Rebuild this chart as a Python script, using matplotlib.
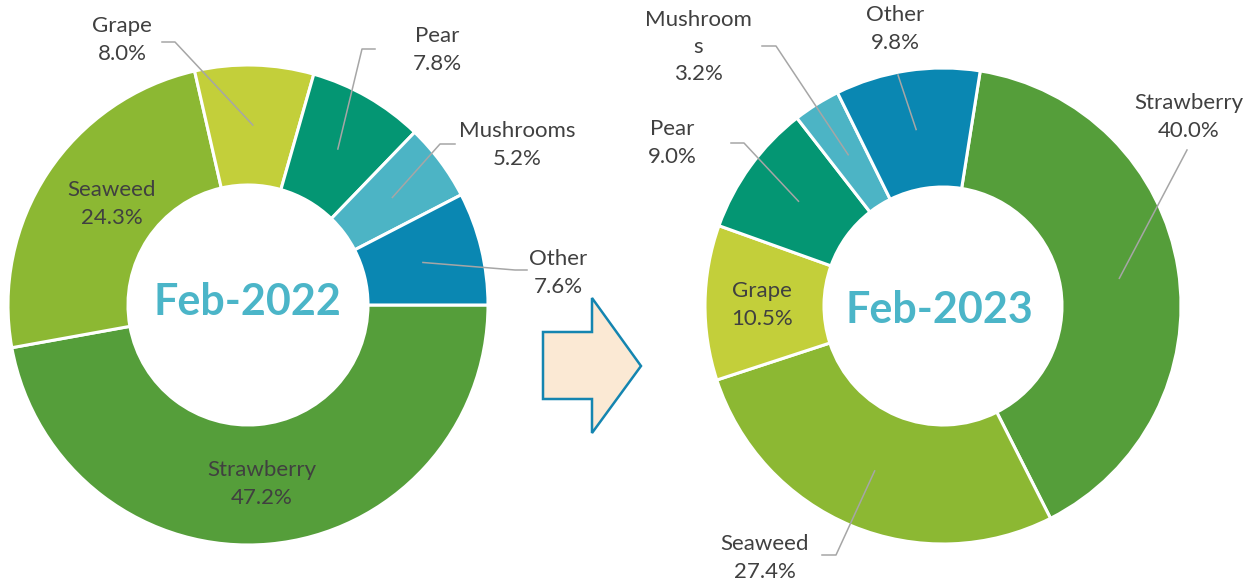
import matplotlib.pyplot as plt
import numpy as np
from matplotlib.patches import Polygon

# data
labels_2022 = ['Strawberry', 'Seaweed', 'Grape', 'Pear', 'Mushrooms', 'Other']
share_2022 = [47.2, 24.3, 8.0, 7.8, 5.2, 7.6]
labels_2023 = ['Strawberry', 'Seaweed', 'Grape', 'Pear', 'Mushroom\ns', 'Other']
share_2023 = [40.0, 27.4, 10.5, 9.0, 3.2, 9.8]
titles = ['Feb-2022', 'Feb-2023']

colors = ['#559E3A', '#8CB833', '#C3CF3A', '#049673', '#4CB4C5', '#0A87B2']
text_col = '#404040'
line_col = '#A6A6A6'

H = 585


def px(x, y):
    # image coords (y down) -> axes coords (y up)
    return (x, H - y)


plt.rcParams['font.family'] = ['Lato', 'DejaVu Sans']

fig = plt.figure(figsize=(12.48, 5.85), dpi=100)
ax = fig.add_axes([0, 0, 1, 1])

# label layout: (text position, elbow points after the anchor) in image px
layout_2022 = [
    ((262, 484), None),
    ((112, 204), None),
    ((122, 40), [(175, 42), (162, 42)]),
    ((437, 50), [(362, 49), (375, 49)]),
    ((517, 145), [(440, 144), (455, 144)]),
    ((558, 273), [(515, 270), (527, 270)]),
]
layout_2023 = [
    ((1189, 117), [(1187, 150)]),
    ((765, 558), [(836, 555), (822, 555)]),
    ((762, 305), None),
    ((672, 143), [(744, 143), (731, 143)]),
    ((698, 47), [(776, 46), (762, 46)]),
    ((895, 29), [(898, 75)]),
]

charts = [
    (labels_2022, share_2022, (248, 305), 240, 0, layout_2022, (247, 302)),
    (labels_2023, share_2023, (943, 306), 238, 81, layout_2023, (939, 310)),
]

for i, (labels, share, c, r, start, layout, tpos) in enumerate(charts):
    wedges, _ = ax.pie(share, colors=colors, radius=r, center=px(*c),
                       startangle=start, counterclock=False,
                       wedgeprops=dict(width=r * 0.5, edgecolor='white', linewidth=2.2))
    for w, lab, val, (tp, pts) in zip(wedges, labels, share, layout):
        ax.text(*px(*tp), f'{lab}\n{val:.1f}%', ha='center', va='center',
                fontsize=16, color=text_col, linespacing=1.45)
        if pts is not None:
            mid = np.deg2rad((w.theta1 + w.theta2) / 2)
            rr = r * 0.75
            xs = [w.center[0] + rr * np.cos(mid)] + [p[0] for p in pts]
            ys = [w.center[1] + rr * np.sin(mid)] + [H - p[1] for p in pts]
            ax.plot(xs, ys, color=line_col, lw=1.1)
    ax.text(*px(*tpos), titles[i], ha='center', va='center', fontsize=31,
            fontweight='bold', color='#4BB5C8')

# arrow between the donuts
arrow = [(543, 332), (592, 332), (592, 298), (641, 366), (592, 433), (592, 399), (543, 399)]
ax.add_patch(Polygon([px(*p) for p in arrow], closed=True, facecolor='#FBE9D4',
                     edgecolor='#1485B0', linewidth=1.8))

ax.set_xlim(0, 1248)
ax.set_ylim(0, H)
ax.axis('off')

plt.savefig('out.png', dpi=100)
